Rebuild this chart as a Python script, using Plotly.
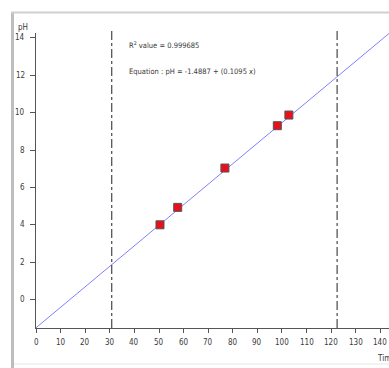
import plotly.graph_objects as go

# Data
time_vals = [50.4, 57.6, 76.8, 98.1, 102.8]
ph_vals = [4.01, 4.94, 7.04, 9.30, 9.87]
intercept = -1.4887
slope = 0.1095
r2_text = "R<sup>2</sup> value = 0.999685"
eq_text = "Equation : pH = -1.4887 + (0.1095 x)"
vlines_x = [30.8, 122.4]
x_ticks = list(range(0, 150, 10))
y_ticks = list(range(0, 16, 2))
x_range = [0, 143.5]
y_range = [-1.5, 14.25]

FONT = "Liberation Sans Narrow, DejaVu Sans Condensed, Arial Narrow, sans-serif"
TXT = "#3a3a3a"

fit_x = [x_range[0], x_range[1]]
fit_y = [intercept + slope * v for v in fit_x]

fig = go.Figure()
fig.add_trace(go.Scatter(x=fit_x, y=fit_y, mode="lines",
                         line=dict(color="#7f7fff", width=1), hoverinfo="skip",
                         showlegend=False))
fig.add_trace(go.Scatter(x=time_vals, y=ph_vals, mode="markers",
                         marker=dict(symbol="square", size=8, color="#e8101a",
                                     line=dict(color="#555555", width=1)),
                         showlegend=False))

PW, PH = 353.0, 295.0  # plot area size in px
def px(xp):
    return (xp - 36) / PW
def py(yp):
    return (328 - yp) / PH

shapes = []
for vx in vlines_x:
    shapes.append(dict(type="line", xref="x", yref="paper", x0=vx, x1=vx, y0=0, y1=py(30),
                       line=dict(color="#222222", width=1, dash="dashdot")))
# outer gray frame
shapes.append(dict(type="line", xref="paper", yref="paper", x0=px(12.5), x1=px(12.5), y0=py(368), y1=py(12),
                   line=dict(color="#bdbdbd", width=3)))
shapes.append(dict(type="line", xref="paper", yref="paper", x0=px(11), x1=px(395), y0=py(12.5), y1=py(12.5),
                   line=dict(color="#cfcfcf", width=2)))
shapes.append(dict(type="line", xref="paper", yref="paper", x0=px(14), x1=px(395), y0=py(364), y1=py(364),
                   line=dict(color="#e6e6e6", width=1)))

annotations = [
    dict(text=r2_text, xref="paper", yref="paper", x=px(127), y=py(45),
         xanchor="left", yanchor="middle", showarrow=False,
         font=dict(family=FONT, size=7.5, color=TXT)),
    dict(text=eq_text, xref="paper", yref="paper", x=px(127), y=py(71),
         xanchor="left", yanchor="middle", showarrow=False,
         font=dict(family=FONT, size=7.5, color=TXT)),
    dict(text="pH", xref="paper", yref="paper", x=px(16), y=py(27),
         xanchor="left", yanchor="middle", showarrow=False,
         font=dict(family=FONT, size=8, color=TXT)),
    dict(text="Time", xref="paper", yref="paper", x=px(375), y=py(358),
         xanchor="left", yanchor="middle", showarrow=False,
         font=dict(family=FONT, size=8, color=TXT)),
]
for t in x_ticks:
    annotations.append(dict(text=str(t), xref="x", yref="paper", x=t, y=py(342),
                            xanchor="center", yanchor="middle", showarrow=False,
                            font=dict(family=FONT, size=8, color=TXT)))
for t in y_ticks:
    annotations.append(dict(text=str(t), xref="paper", yref="y", x=px(27), y=t,
                            xanchor="right", yanchor="middle", showarrow=False,
                            font=dict(family=FONT, size=8, color=TXT)))

fig.update_layout(
    width=389, height=368,
    margin=dict(l=36, r=0, t=33, b=40, autoexpand=False),
    paper_bgcolor="white", plot_bgcolor="white",
    shapes=shapes, annotations=annotations,
    xaxis=dict(range=x_range, tickvals=x_ticks, ticks="outside", ticklen=4, tickcolor="#555555",
               showticklabels=False,
               showline=True, linecolor="#555555", linewidth=1, showgrid=False, zeroline=False),
    yaxis=dict(range=y_range, tickvals=y_ticks, ticks="outside", ticklen=5, tickcolor="#555555",
               showticklabels=False,
               showline=True, linecolor="#555555", linewidth=1, showgrid=False, zeroline=False),
)

fig.write_html("out.html", config={"displayModeBar": False},
               post_script="document.body.style.margin='0';document.body.style.overflow='hidden';")
